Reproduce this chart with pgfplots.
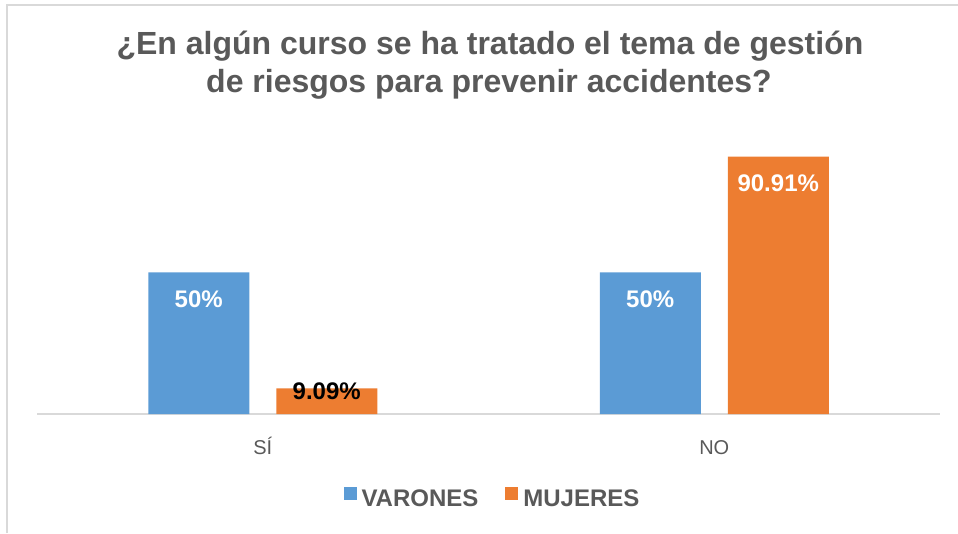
\documentclass[border=0pt]{standalone}
\usepackage{fontspec}
\setmainfont{Liberation Sans}
\usepackage{pgfplots}
\pgfplotsset{compat=1.18}
\definecolor{cblue}{HTML}{5B9BD5}
\definecolor{corange}{HTML}{ED7D31}
\definecolor{ctext}{HTML}{595959}
\definecolor{cgrid}{HTML}{D9D9D9}
\begin{document}
\begin{tikzpicture}[x=1pt,y=1pt]
\path[use as bounding box] (0,0) rectangle (958,533);
\draw[cgrid, line width=1.2pt] (7,0) -- (7,528) -- (958,528);
\node[anchor=base, text=ctext, font=\fontsize{32}{38}\selectfont\bfseries] at (490,478) {¿En algún curso se ha tratado el tema de gestión};
\node[anchor=base, text=ctext, font=\fontsize{32}{38}\selectfont\bfseries] at (489,440) {de riesgos para prevenir accidentes?};
\begin{axis}[
  at={(37pt,119pt)}, anchor=south west,
  scale only axis, width=903pt, height=283pt,
  xmin=-0.5, xmax=1.5, ymin=0, ymax=100,
  axis y line=none, axis x line*=bottom,
  x axis line style={cgrid, line width=1.2pt},
  xtick={0,1}, xticklabels={SÍ,NO},
  xtick style={draw=none},
  xticklabel style={font=\fontsize{20}{24}\selectfont, text=ctext, anchor=base, yshift=-36pt},
  ybar=27pt, bar width=101pt,
  clip=false,
  nodes near coords={\pgfplotspointmeta},
  point meta=explicit symbolic,
  visualization depends on={ifthenelse(y<20,-2.5,-27) \as \myshift},
  every node near coord/.append style={font=\fontsize{24}{28}\selectfont\bfseries, text=white, anchor=center, yshift=\myshift pt},
  legend columns=2,
  legend style={at={(axis description cs:0.5033,-0.295)}, anchor=center, draw=none, fill=none,
    font=\fontsize{24}{28}\selectfont\bfseries, text=ctext,
    nodes={inner sep=0pt},
    /tikz/every odd column/.append style={column sep=5pt},
    /tikz/every even column/.append style={column sep=27pt}},
  legend image code/.code={\fill[#1] (0pt,-0.5pt) rectangle (13pt,12.5pt);},
]
\addplot[fill=cblue, draw=none] coordinates {(0,50) [50\%] (1,50) [50\%]};
\addplot[fill=corange, draw=none] coordinates {(0,9.09) [\textcolor{black}{9.09\%}] (1,90.91) [90.91\%]};
\legend{VARONES,MUJERES}
\end{axis}
\end{tikzpicture}
\end{document}
